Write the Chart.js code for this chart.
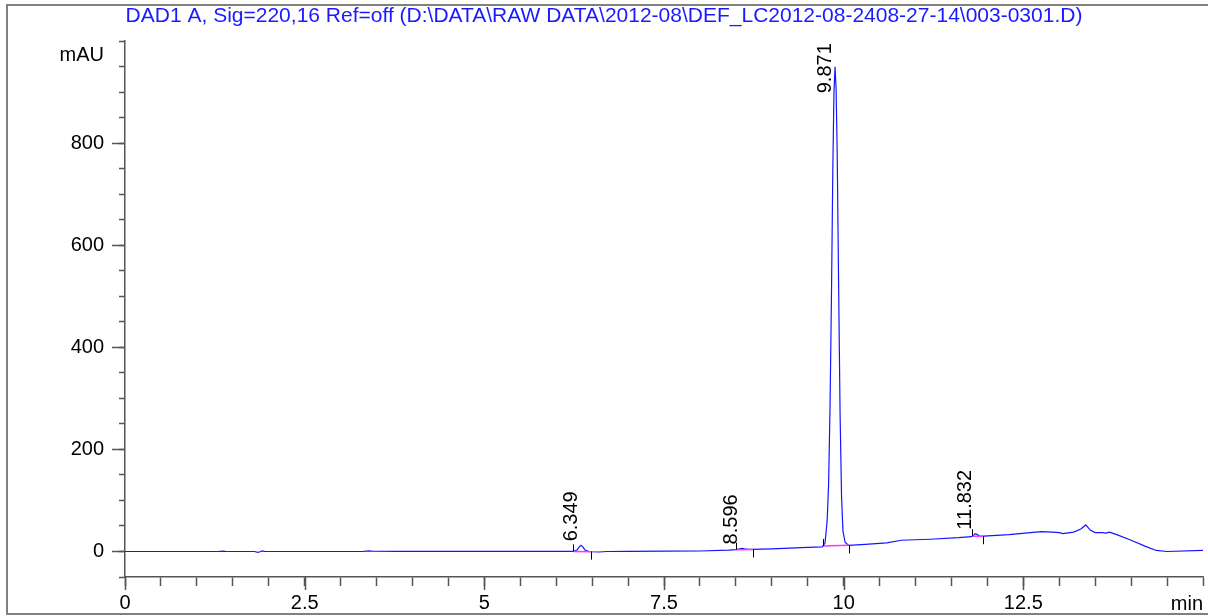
<!DOCTYPE html>
<html>
<head>
<meta charset="utf-8">
<script src="https://cdn.jsdelivr.net/npm/chart.js@4"></script>
<style>
  body { margin:0; background:#fff; }
  #wrap { position:relative; width:1208px; height:616px; }
</style>
</head>
<body>
<div id="wrap"><canvas id="chart"></canvas></div>
<script>
/* ---------- DATA ---------- */
const titleText = "DAD1 A, Sig=220,16 Ref=off (D:\\DATA\\RAW DATA\\2012-08\\DEF_LC2012-08-2408-27-14\\003-0301.D)";

// retention time (min) and signal (mAU)
const rt = [0, 1.30, 1.36, 1.40, 1.45, 1.80, 1.85, 1.88, 1.91, 1.94, 1.98, 3.30, 3.36, 3.40, 3.45, 3.80, 5.00, 6.00,
  6.24, 6.29, 6.32, 6.345, 6.37, 6.40, 6.45, 6.50, 6.60, 6.70, 7.00, 7.50, 8.00, 8.40,
  8.50, 8.55, 8.58, 8.62, 8.68, 8.74, 9.00, 9.50,
  9.70, 9.74, 9.77, 9.79, 9.81, 9.83, 9.85, 9.865, 9.88, 9.895, 9.91, 9.93, 9.95, 9.97, 9.99, 10.02, 10.07,
  10.30, 10.60, 10.80, 11.20, 11.60, 11.78, 11.81, 11.83, 11.86, 11.90, 11.95,
  12.30, 12.60, 12.75, 12.90, 13.00, 13.05, 13.10, 13.20, 13.30, 13.37, 13.43, 13.50, 13.60, 13.65, 13.70,
  13.80, 14.00, 14.20, 14.35, 14.50, 15.00];
const signal = [0, 0, 0.8, 0.3, 0, 0, -1.8, -0.5, 1.2, 0.4, 0, 0, 0.6, 1.0, 0.5, 0.4, 0.3, 0.2,
  0.2, 3, 9, 12, 9, 3, 0.5, -0.5, -1, 0, 0.3, 0.8, 1.0, 2.5,
  3.5, 5, 6, 5, 4, 4, 5, 8,
  9, 16, 60, 130, 280, 500, 760, 900, 950, 905, 780, 520, 270, 110, 40, 18, 12,
  14, 17, 22, 24, 27, 29, 32, 35, 33, 29.5, 30,
  33, 37, 39, 38, 37, 35, 36, 38, 44, 52, 42, 37, 37, 36, 38,
  33, 22, 10, 2, 0, 2];

// integration events
const peakRT = ["6.349", "8.596", "9.871", "11.832"];
const peakApex = [6.345, 8.58, 9.88, 11.83];
const peakStart = [6.24, 8.50, 9.71, 11.79];
const peakEnd = [6.49, 8.74, 10.07, 11.94];

const xTicks = [0, 2.5, 5, 7.5, 10, 12.5];
const yTicks = [0, 200, 400, 600, 800];

/* ---------- HELPERS ---------- */
function sigAt(t){
  for (let i = 1; i < rt.length; i++) {
    if (t <= rt[i]) {
      const f = (t - rt[i-1]) / (rt[i] - rt[i-1]);
      return signal[i-1] + f * (signal[i] - signal[i-1]);
    }
  }
  return signal[signal.length-1];
}

const trace = rt.map((t,i)=>({x:t, y:signal[i]}));
const baselines = peakStart.map((s,i)=>({
  data:[{x:s, y:sigAt(s)}, {x:peakEnd[i], y:sigAt(peakEnd[i])}],
  borderColor:"#ff33ff", borderWidth:1.5, pointRadius:0, order:1
}));

/* ---------- PLUGINS ---------- */
const frame = {
  id:"frame",
  beforeDraw(c){
    const ctx = c.ctx;
    ctx.save();
    ctx.fillStyle = "#fff";
    ctx.fillRect(0,0,c.width,c.height);
    ctx.strokeStyle = "#808080";
    ctx.lineWidth = 2;
    ctx.beginPath();
    ctx.moveTo(1208,5); ctx.lineTo(7,5); ctx.lineTo(7,614); ctx.lineTo(1208,614);
    ctx.stroke();
    ctx.restore();
  }
};

const peaks = {
  id:"peaks",
  afterDatasetsDraw(c){
    const ctx = c.ctx, xs = c.scales.x, ys = c.scales.y, area = c.chartArea;
    ctx.save();

    // longer ticks at labelled values
    ctx.strokeStyle = "#555";
    ctx.lineWidth = 1.5;
    ctx.beginPath();
    yTicks.forEach(v=>{
      const y = Math.round(ys.getPixelForValue(v)) + 0.5;
      ctx.moveTo(area.left, y); ctx.lineTo(area.left - 13, y);
    });
    xTicks.forEach(v=>{
      const x = Math.round(xs.getPixelForValue(v)) + 0.5;
      ctx.moveTo(x, area.bottom); ctx.lineTo(x, area.bottom + 13);
    });
    ctx.stroke();

    ctx.strokeStyle = "#000";
    ctx.lineWidth = 1;
    peakRT.forEach((lab,i)=>{
      const xs0 = Math.round(xs.getPixelForValue(peakStart[i])) + 0.5;
      const ys0 = ys.getPixelForValue(sigAt(peakStart[i]));
      const xe = Math.round(xs.getPixelForValue(peakEnd[i])) + 0.5;
      const ye = ys.getPixelForValue(sigAt(peakEnd[i]));
      ctx.beginPath();
      ctx.moveTo(xs0, ys0); ctx.lineTo(xs0, ys0 - 7);
      ctx.moveTo(xe, ye); ctx.lineTo(xe, ye + 8);
      ctx.stroke();

      const px = xs.getPixelForValue(peakApex[i]);
      const py = ys.getPixelForValue(sigAt(peakApex[i]));
      ctx.font = "20px 'Liberation Sans', Arial, sans-serif";
      const w = ctx.measureText(lab).width;
      const ay = Math.max(py - 4, area.top + w + 2);
      ctx.save();
      ctx.translate(px, ay);
      ctx.rotate(-Math.PI/2);
      ctx.fillStyle = "#000";
      ctx.textAlign = "left";
      ctx.textBaseline = "bottom";
      ctx.fillText(lab, 0, 0);
      ctx.restore();
    });

    // unit labels
    ctx.fillStyle = "#000";
    ctx.font = "20px 'Liberation Sans', Arial, sans-serif";
    ctx.textAlign = "right";
    ctx.textBaseline = "middle";
    ctx.fillText("mAU", area.left - 21, area.top + 14);
    ctx.fillText("min", area.right, 604);
    ctx.restore();
  }
};

/* ---------- CHART ---------- */
Chart.defaults.font.family = "'Liberation Sans', Arial, sans-serif";
Chart.defaults.color = "#000";

new Chart(document.getElementById("chart"),{
  type:"line",
  data:{
    datasets:[
      {data:trace, borderColor:"#1515ff", borderWidth:1.2, pointRadius:0, tension:0, order:2},
      ...baselines
    ]
  },
  options:{
    responsive:true,
    maintainAspectRatio:false,
    animation:false,
    layout:{padding:{left:0, right:0, top:0, bottom:0}},
    plugins:{
      legend:{display:false},
      tooltip:{enabled:false},
      title:{
        display:true, text:titleText, color:"#1a1aff",
        font:{size:21, weight:"normal"}, padding:{top:4, bottom:12}
      }
    },
    scales:{
      x:{
        type:"linear", min:0, max:15,
        afterFit(s){ s.height = 39; },
        border:{color:"#555", width:1.5},
        grid:{drawOnChartArea:false, tickLength:9, color:"#555", tickWidth:1.5},
        ticks:{
          stepSize:0.5, autoSkip:false, maxRotation:0, padding:5,
          font:{size:20},
          callback:v => xTicks.includes(v) ? String(v) : ""
        }
      },
      y:{
        min:-50, max:1000,
        afterFit(s){ s.width = 125; },
        border:{color:"#555", width:1.5},
        grid:{drawOnChartArea:false, tickLength:6, color:"#555", tickWidth:1.5},
        ticks:{
          stepSize:50, autoSkip:false, padding:15,
          font:{size:20},
          callback:v => yTicks.includes(v) ? String(v) : ""
        }
      }
    }
  },
  plugins:[frame, peaks]
});
</script>
</body>
</html>
